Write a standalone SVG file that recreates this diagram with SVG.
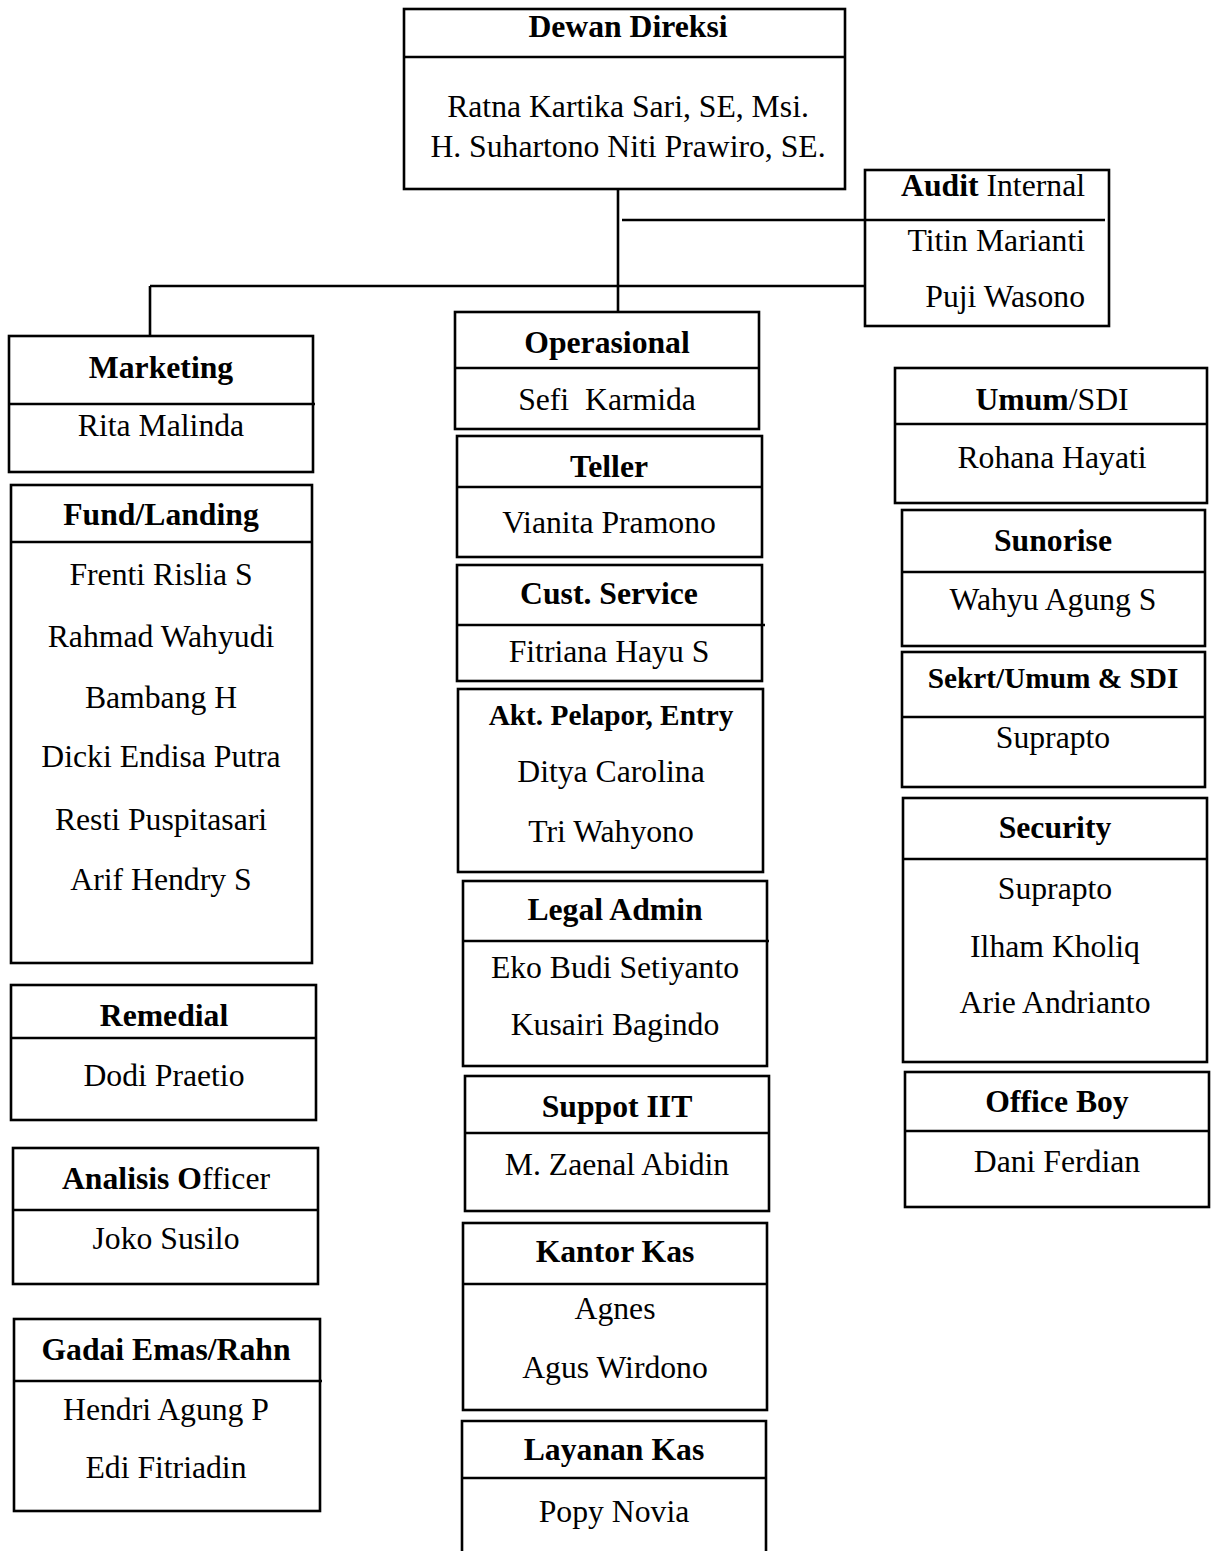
<svg xmlns="http://www.w3.org/2000/svg" width="1213" height="1551" viewBox="0 0 1213 1551">
<style>
.b{fill:#fff;stroke:#000;stroke-width:2.6}
.d{stroke:#000;stroke-width:2.6}
.c{stroke:#000;stroke-width:2.6;fill:none}
text{font-family:"Liberation Serif","Times New Roman",serif;font-size:31.7px;fill:#000;text-anchor:middle}
.t{font-weight:bold}
.s{font-size:29.3px}
</style>
<rect width="1213" height="1551" fill="#fff"/>
<g id="connectors">
<line class="c" x1="618" y1="176" x2="618" y2="312"/>
<line class="c" x1="622" y1="220" x2="866" y2="220"/>
<line class="c" x1="150" y1="286" x2="866" y2="286"/>
<line class="c" x1="150" y1="286" x2="150" y2="336"/>
</g>
<g id="dewan-direksi">
<rect class="b" x="404" y="9" width="441" height="180"/>
<line class="d" x1="403" y1="57" x2="845" y2="57"/>
<text class="t" x="628" y="37">Dewan Direksi</text>
<text x="628" y="117">Ratna Kartika Sari, SE, Msi.</text>
<text x="628" y="157">H. Suhartono Niti Prawiro, SE.</text>
</g>
<g id="audit-internal">
<rect class="b" x="865" y="170" width="244" height="156"/>
<line class="d" x1="865" y1="220" x2="1105" y2="220"/>
<text x="1085" y="196" style="text-anchor:end"><tspan class="t">Audit</tspan> Internal</text>
<text x="1085" y="251" style="text-anchor:end">Titin Marianti</text>
<text x="1085" y="307" style="text-anchor:end">Puji Wasono</text>
</g>
<g id="marketing">
<rect class="b" x="9" y="336" width="304" height="136"/>
<line class="d" x1="9" y1="404" x2="315" y2="404"/>
<text class="t" x="161" y="378">Marketing</text>
<text x="161" y="436">Rita Malinda</text>
</g>
<g id="fund-landing">
<rect class="b" x="11" y="485" width="301" height="478"/>
<line class="d" x1="11" y1="542" x2="313" y2="542"/>
<text class="t" x="161" y="525">Fund/Landing</text>
<text x="161" y="585">Frenti Rislia S</text>
<text x="161" y="647">Rahmad Wahyudi</text>
<text x="161" y="708">Bambang H</text>
<text x="161" y="767">Dicki Endisa Putra</text>
<text x="161" y="830">Resti Puspitasari</text>
<text x="161" y="890">Arif Hendry S</text>
</g>
<g id="remedial">
<rect class="b" x="11" y="985" width="305" height="135"/>
<line class="d" x1="11" y1="1038" x2="316" y2="1038"/>
<text class="t" x="164" y="1026">Remedial</text>
<text x="164" y="1086">Dodi Praetio</text>
</g>
<g id="analisis-officer">
<rect class="b" x="13" y="1148" width="305" height="136"/>
<line class="d" x1="13" y1="1210" x2="318" y2="1210"/>
<text x="166" y="1189"><tspan class="t">Analisis O</tspan>fficer</text>
<text x="166" y="1249">Joko Susilo</text>
</g>
<g id="gadai-emas">
<rect class="b" x="14" y="1319" width="306" height="192"/>
<line class="d" x1="14" y1="1381" x2="322" y2="1381"/>
<text class="t" x="166" y="1360">Gadai Emas/Rahn</text>
<text x="166" y="1420">Hendri Agung P</text>
<text x="166" y="1478">Edi Fitriadin</text>
</g>
<g id="operasional">
<rect class="b" x="455" y="312" width="304" height="117"/>
<line class="d" x1="455" y1="368" x2="759" y2="368"/>
<text class="t" x="607" y="353">Operasional</text>
<text x="607" y="410">Sefi&#160; Karmida</text>
</g>
<g id="teller">
<rect class="b" x="457" y="436" width="305" height="121"/>
<line class="d" x1="457" y1="487" x2="762" y2="487"/>
<text class="t" x="609" y="477">Teller</text>
<text x="609" y="533">Vianita Pramono</text>
</g>
<g id="cust-service">
<rect class="b" x="457" y="565" width="305" height="116"/>
<line class="d" x1="457" y1="625" x2="765" y2="625"/>
<text class="t" x="609" y="604">Cust. Service</text>
<text x="609" y="662">Fitriana Hayu S</text>
</g>
<g id="akt-pelapor">
<rect class="b" x="458" y="689" width="305" height="183"/>
<text class="t s" x="611" y="725">Akt. Pelapor, Entry</text>
<text x="611" y="782">Ditya Carolina</text>
<text x="611" y="842">Tri Wahyono</text>
</g>
<g id="legal-admin">
<rect class="b" x="463" y="881" width="304" height="185"/>
<line class="d" x1="463" y1="941" x2="769" y2="941"/>
<text class="t" x="615" y="920">Legal Admin</text>
<text x="615" y="978">Eko Budi Setiyanto</text>
<text x="615" y="1035">Kusairi Bagindo</text>
</g>
<g id="suppot-iit">
<rect class="b" x="465" y="1076" width="304" height="135"/>
<line class="d" x1="465" y1="1133" x2="769" y2="1133"/>
<text class="t" x="617" y="1117">Suppot IIT</text>
<text x="617" y="1175">M. Zaenal Abidin</text>
</g>
<g id="kantor-kas">
<rect class="b" x="463" y="1223" width="304" height="187"/>
<line class="d" x1="463" y1="1284" x2="767" y2="1284"/>
<text class="t" x="615" y="1262">Kantor Kas</text>
<text x="615" y="1319">Agnes</text>
<text x="615" y="1378">Agus Wirdono</text>
</g>
<g id="layanan-kas">
<path class="c" d="M462 1560 V1421 H766 V1560"/>
<line class="d" x1="462" y1="1478" x2="766" y2="1478"/>
<text class="t" x="614" y="1460">Layanan Kas</text>
<text x="614" y="1522">Popy Novia</text>
</g>
<g id="umum-sdi">
<rect class="b" x="895" y="368" width="312" height="135"/>
<line class="d" x1="895" y1="424" x2="1207" y2="424"/>
<text x="1052" y="410"><tspan class="t">Umum</tspan>/SDI</text>
<text x="1052" y="468">Rohana Hayati</text>
</g>
<g id="sunorise">
<rect class="b" x="902" y="510" width="303" height="136"/>
<line class="d" x1="902" y1="572" x2="1205" y2="572"/>
<text class="t" x="1053" y="551">Sunorise</text>
<text x="1053" y="610">Wahyu Agung S</text>
</g>
<g id="sekrt-umum-sdi">
<rect class="b" x="902" y="652" width="303" height="135"/>
<line class="d" x1="902" y1="717" x2="1205" y2="717"/>
<text class="t s" x="1053" y="688">Sekrt/Umum &amp; SDI</text>
<text x="1053" y="748">Suprapto</text>
</g>
<g id="security">
<rect class="b" x="903" y="798" width="304" height="264"/>
<line class="d" x1="903" y1="859" x2="1207" y2="859"/>
<text class="t" x="1055" y="838">Security</text>
<text x="1055" y="899">Suprapto</text>
<text x="1055" y="957">Ilham Kholiq</text>
<text x="1055" y="1013">Arie Andrianto</text>
</g>
<g id="office-boy">
<rect class="b" x="905" y="1072" width="304" height="135"/>
<line class="d" x1="905" y1="1131" x2="1209" y2="1131"/>
<text class="t" x="1057" y="1112">Office Boy</text>
<text x="1057" y="1172">Dani Ferdian</text>
</g>
</svg>
